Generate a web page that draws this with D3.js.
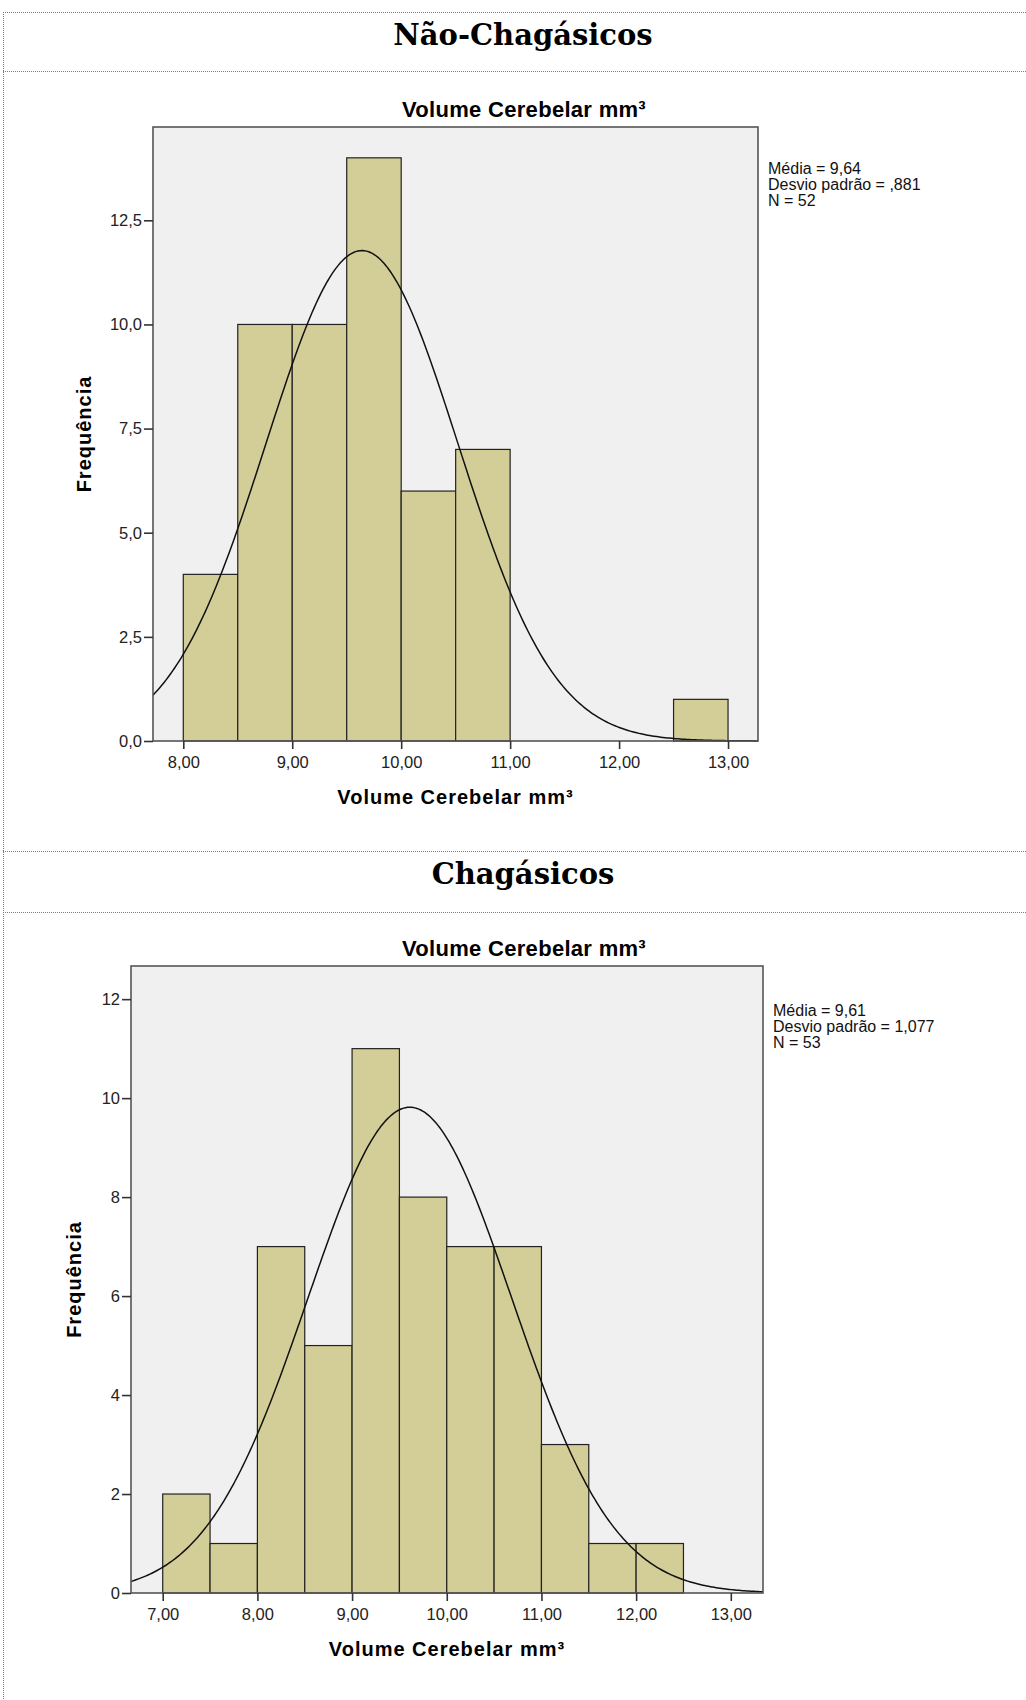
<!DOCTYPE html>
<html lang="pt">
<head>
  <meta charset="UTF-8">
  <title>Volume Cerebelar - Histogramas</title>
  <script src="https://d3js.org/d3.v7.min.js"></script>
  <style>
    body { margin: 0; background: #fff; }
    svg { display: block; }
    .section-title { font-family: "DejaVu Serif", serif; font-weight: bold; font-size: 29px; fill: #000; }
    .chart-title { font-family: "Liberation Sans", Arial, sans-serif; font-weight: bold; font-size: 22px; letter-spacing: 0.3px; fill: #000; }
    .axis-title { font-family: "Liberation Sans", Arial, sans-serif; font-weight: bold; font-size: 20px; letter-spacing: 1px; fill: #000; }
    .tick-label { font-family: "Liberation Sans", Arial, sans-serif; font-size: 16.5px; fill: #222; }
    .stats { font-family: "Liberation Sans", Arial, sans-serif; font-size: 16px; fill: #111; }
  </style>
</head>
<body>
  <svg width="1026" height="1700"></svg>

  <script>
    // Não-Chagásicos
    const naoBinStart = [8.0, 8.5, 9.0, 9.5, 10.0, 10.5, 11.0, 11.5, 12.0, 12.5];
    const naoCounts   = [4, 10, 10, 14, 6, 7, 0, 0, 0, 1];
    const naoMean = 9.64, naoSd = 0.881, naoN = 52;
    const naoStatsText = ["Média = 9,64", "Desvio padrão = ,881", "N = 52"];
    const naoXTicks = [8, 9, 10, 11, 12, 13];
    const naoYTicks = [0, 2.5, 5, 7.5, 10, 12.5];

    // Chagásicos
    const chaBinStart = [7.0, 7.5, 8.0, 8.5, 9.0, 9.5, 10.0, 10.5, 11.0, 11.5, 12.0];
    const chaCounts   = [2, 1, 7, 5, 11, 8, 7, 7, 3, 1, 1];
    const chaMean = 9.61, chaSd = 1.077, chaN = 53;
    const chaStatsText = ["Média = 9,61", "Desvio padrão = 1,077", "N = 53"];
    const chaXTicks = [7, 8, 9, 10, 11, 12, 13];
    const chaYTicks = [0, 2, 4, 6, 8, 10, 12];

    const binWidth = 0.5;
    const titleText = "Volume Cerebelar mm³";

    const svg = d3.select("svg");
    const comma = s => s.replace(".", ",");

    // dotted table borders
    const dotted = (x1, y1, x2, y2) => svg.append("line")
      .attr("x1", x1).attr("y1", y1).attr("x2", x2).attr("y2", y2)
      .attr("stroke", "#7a7a7a").attr("stroke-width", 1)
      .attr("stroke-dasharray", "1,1");

    dotted(3, 12.5, 1026, 12.5);
    dotted(3, 71.5, 1026, 71.5);
    dotted(3, 851.5, 1026, 851.5);
    dotted(3, 912.5, 1026, 912.5);
    dotted(3.5, 12, 3.5, 1700);

    svg.append("text").attr("class", "section-title")
      .attr("x", 523).attr("y", 45).attr("text-anchor", "middle").text("Não-Chagásicos");
    svg.append("text").attr("class", "section-title")
      .attr("x", 523).attr("y", 884).attr("text-anchor", "middle").text("Chagásicos");

    function drawHistogram(cfg) {
      const g = svg.append("g");
      const x = d3.scaleLinear().domain(cfg.xDomain).range([cfg.left, cfg.right]);
      const y = d3.scaleLinear().domain(cfg.yDomain).range([cfg.bottom, cfg.top]);

      // plot background
      g.append("rect")
        .attr("x", cfg.left).attr("y", cfg.top)
        .attr("width", cfg.right - cfg.left).attr("height", cfg.bottom - cfg.top)
        .attr("fill", "#f0f0f0");

      // bars
      const bins = cfg.binStart.map((b, i) => ({ x0: b, x1: b + binWidth, count: cfg.counts[i] }))
        .filter(d => d.count > 0);
      g.selectAll(".bar").data(bins).join("rect")
        .attr("class", "bar")
        .attr("x", d => x(d.x0))
        .attr("y", d => y(d.count))
        .attr("width", d => x(d.x1) - x(d.x0))
        .attr("height", d => y(0) - y(d.count))
        .attr("fill", "#d3ce97")
        .attr("stroke", "#222")
        .attr("stroke-width", 1.2);

      // fitted normal curve from the reported mean, sd and N
      const dens = v => cfg.n * binWidth / (cfg.sd * Math.sqrt(2 * Math.PI)) *
        Math.exp(-0.5 * Math.pow((v - cfg.mean) / cfg.sd, 2));
      const xs = d3.range(cfg.xDomain[0], cfg.xDomain[1], 0.02).concat([cfg.xDomain[1]]);
      g.append("path")
        .datum(xs)
        .attr("fill", "none")
        .attr("stroke", "#111")
        .attr("stroke-width", 1.5)
        .attr("d", d3.line().x(v => x(v)).y(v => y(dens(v))));

      // frame
      g.append("rect")
        .attr("x", cfg.left).attr("y", cfg.top)
        .attr("width", cfg.right - cfg.left).attr("height", cfg.bottom - cfg.top)
        .attr("fill", "none").attr("stroke", "#555").attr("stroke-width", 1.6);

      // axes
      const xAxis = d3.axisBottom(x).tickValues(cfg.xTicks).tickSize(8).tickPadding(7)
        .tickFormat(d => comma(d3.format(".2f")(d)));
      const yAxis = d3.axisLeft(y).tickValues(cfg.yTicks).tickSize(9).tickPadding(2)
        .tickFormat(d => comma(d3.format(cfg.yFormat)(d)));

      const gx = g.append("g").attr("transform", `translate(0,${cfg.bottom})`).call(xAxis);
      const gy = g.append("g").attr("transform", `translate(${cfg.left},0)`).call(yAxis);
      [gx, gy].forEach(a => {
        a.select(".domain").remove();
        a.selectAll(".tick line").attr("stroke", "#333").attr("stroke-width", 1.6);
        a.selectAll(".tick text").attr("class", "tick-label").attr("font-size", null).attr("font-family", null);
      });

      g.append("text").attr("class", "chart-title")
        .attr("x", 524).attr("y", cfg.top - 10).attr("text-anchor", "middle").text(titleText);

      g.append("text").attr("class", "axis-title")
        .attr("x", (cfg.left + cfg.right) / 2).attr("y", cfg.bottom + 63)
        .attr("text-anchor", "middle").text(titleText);

      g.append("text").attr("class", "axis-title")
        .attr("transform", `translate(${cfg.yLabelX},${(cfg.top + cfg.bottom) / 2}) rotate(-90)`)
        .attr("text-anchor", "middle").text("Frequência");

      g.selectAll(".stats").data(cfg.stats).join("text")
        .attr("class", "stats")
        .attr("x", cfg.right + 10)
        .attr("y", (d, i) => cfg.statsY + i * 16)
        .text(d => d);
    }

    drawHistogram({
      binStart: naoBinStart, counts: naoCounts,
      mean: naoMean, sd: naoSd, n: naoN, stats: naoStatsText,
      xTicks: naoXTicks, yTicks: naoYTicks, yFormat: ".1f",
      xDomain: [7.722, 13.275], yDomain: [0, 14.74],
      left: 153, right: 758, top: 127, bottom: 741,
      yLabelX: 91, statsY: 174
    });

    drawHistogram({
      binStart: chaBinStart, counts: chaCounts,
      mean: chaMean, sd: chaSd, n: chaN, stats: chaStatsText,
      xTicks: chaXTicks, yTicks: chaYTicks, yFormat: "d",
      xDomain: [6.665, 13.34], yDomain: [0, 12.67],
      left: 131, right: 763, top: 966, bottom: 1593,
      yLabelX: 81, statsY: 1016
    });
  </script>
</body>
</html>
